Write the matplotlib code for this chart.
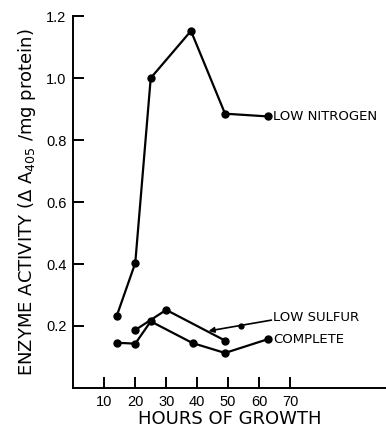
import matplotlib.pyplot as plt

plt.rcParams['font.family'] = ['Liberation Sans', 'DejaVu Sans']

# hours of growth / enzyme activity
low_n_hours = [14, 20, 25, 38, 49, 63]
low_n_act = [0.232, 0.403, 1.0, 1.152, 0.885, 0.876]

low_s_hours = [20, 30, 49]
low_s_act = [0.187, 0.252, 0.153]

complete_hours = [14, 20, 25, 38.5, 49, 63]
complete_act = [0.146, 0.143, 0.215, 0.145, 0.113, 0.158]

x_ticks = [10, 20, 30, 40, 50, 60, 70]
y_ticks = [0.2, 0.4, 0.6, 0.8, 1.0, 1.2]

fig = plt.figure(figsize=(3.86, 4.29), dpi=100)
ax = fig.add_axes([0.19, 0.0956, 0.81, 0.867])

style = dict(color='black', marker='o', markersize=5, linewidth=1.6, clip_on=False)
ax.plot(low_n_hours, low_n_act, **style)
ax.plot(low_s_hours, low_s_act, **style)
ax.plot(complete_hours, complete_act, **style)

ax.set_xlim(0, 101)
ax.set_ylim(0, 1.2)
ax.set_xticks(x_ticks)
ax.set_yticks(y_ticks)
ax.set_yticklabels(['0.2', '0.4', '0.6', '0.8', '1.0', '1.2'])
ax.tick_params(direction='in', length=8, width=1.4, labelsize=10.5, pad=5)
for s in ['top', 'right']:
    ax.spines[s].set_visible(False)
for s in ['left', 'bottom']:
    ax.spines[s].set_linewidth(1.4)

lab = dict(fontsize=13, family='DejaVu Sans')
ax.set_xlabel('HOURS OF GROWTH', labelpad=1, **lab)
ax.set_ylabel('ENZYME ACTIVITY (\u0394 A$_{\\mathregular{405}}$ /mg protein)', labelpad=6, **lab)

# curve labels
txt = dict(fontsize=9.5, family='DejaVu Sans', va='center', ha='left')
ax.text(64.5, 0.876, 'LOW NITROGEN', **txt)
ax.text(64.5, 0.226, 'LOW SULFUR', **txt)
ax.text(64.5, 0.155, 'COMPLETE', **txt)

# pointer for low sulfur
ax.annotate('', xy=(43.7, 0.184), xytext=(64.0, 0.219),
            arrowprops=dict(arrowstyle='-|>', color='black', lw=1.2,
                            mutation_scale=8, shrinkA=0, shrinkB=0))
ax.plot([54], [0.201], 'o', color='black', markersize=3.5)

fig.savefig('out.png', dpi=100)
